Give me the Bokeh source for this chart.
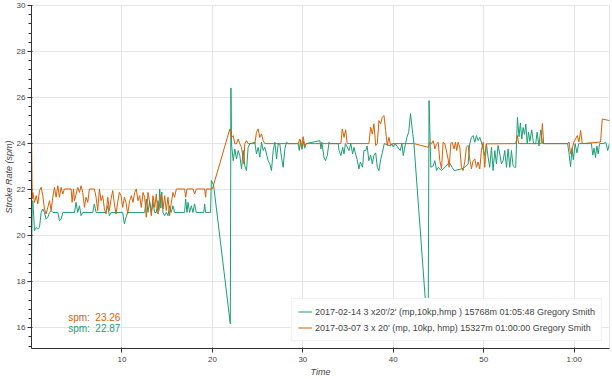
from bokeh.plotting import figure
from bokeh.models import Range1d, FixedTicker, Label, Legend, LegendItem
from bokeh.embed import file_html
from bokeh.resources import INLINE

FONT = "Liberation Sans"

# ---- data (time in minutes, stroke rate in spm) ----
green_t = [0, 0.08, 0.15, 0.33, 0.52, 0.70, 0.88, 1.07, 1.25, 1.43, 1.62, 1.80, 1.99, 2.17, 2.35, 2.91,
           3.09, 3.27, 3.46, 4.75, 4.93, 5.11, 5.30, 5.48, 5.67, 6.77, 6.95, 7.14, 8.24, 8.43, 8.61, 8.79,
           10.08, 10.27, 10.45, 10.63, 12.51, 12.69, 12.88, 13.06, 13.25, 13.43, 13.62, 13.80, 13.98, 14.08,
           14.17, 14.30, 14.40, 14.54, 14.72, 14.90, 15.09, 15.27, 15.46, 15.64, 15.82, 16.93, 17.04, 17.19,
           17.30, 17.48, 17.67, 17.85, 18.03, 18.22, 19.05, 19.14, 19.25, 19.80, 19.88, 20.13, 21.98, 22.05,
           22.11, 22.30, 22.48, 22.66, 22.85, 23.03, 23.22, 23.40, 23.58, 23.77, 23.95, 24.14, 24.69, 24.87,
           25.06, 25.24, 25.43, 25.61, 25.80, 25.98, 26.16, 26.35, 26.53, 26.72, 26.90, 27.09, 27.27, 27.45,
           27.64, 27.82, 28.01, 28.19, 28.40, 29.48, 29.60, 29.75, 29.90, 30.05, 30.20, 30.35, 31.88, 32.00,
           32.10, 32.34, 32.50, 32.71, 32.89, 33.00, 33.90, 34.00, 34.20, 34.40, 34.55, 34.70, 35.10, 35.30,
           35.50, 35.65, 35.80, 36.00, 36.20, 36.35, 36.60, 36.75, 36.95, 37.10, 37.30, 37.50, 37.68, 37.86,
           38.05, 38.23, 38.41, 38.60, 38.78, 39.00, 39.70, 39.85, 40.00, 40.20, 40.76, 40.95, 41.10, 41.30,
           41.50, 41.70, 41.90, 42.10, 42.28, 43.85, 43.95, 44.15, 44.41, 44.59, 44.78, 44.96, 45.33, 45.70,
           46.06, 46.17, 46.50, 46.72, 47.53, 47.90, 48.27, 48.45, 48.64, 48.82, 49.01, 49.19, 49.37, 49.56,
           49.74, 49.93, 50.11, 50.29, 50.48, 50.66, 50.85, 51.03, 51.22, 51.40, 51.58, 51.77, 51.95, 52.14,
           52.32, 52.51, 52.69, 52.88, 53.06, 53.24, 53.43, 53.53, 53.72, 53.90, 54.05, 54.20, 54.35, 54.50,
           54.65, 54.80, 54.95, 55.10, 55.30, 55.50, 55.74, 55.90, 56.10, 56.30, 56.50, 59.27, 59.42, 59.60,
           59.75, 59.90, 60.10, 60.30, 60.50, 61.90, 62.05, 62.20, 62.35, 62.50, 62.65, 62.80, 63.20, 63.50,
           63.70, 63.90]
green_spm = [18.5, 21.5, 21.52, 20.22, 20.36, 20.29, 20.36, 21.01, 21.16, 21.01, 20.72, 20.80, 21.01, 21.09, 21.01, 21.01,
             20.65, 20.72, 21.01, 21.01, 21.45, 21.01, 21.30, 20.87, 21.01, 21.01, 21.38, 21.01, 21.01, 21.30, 20.87, 21.01,
             21.01, 20.51, 20.80, 21.01, 21.01, 21.59, 21.01, 21.52, 21.01, 21.45, 21.01, 21.01, 21.52, 21.10,
             22.03, 21.20, 21.90, 21.01, 20.87, 21.01, 20.87, 21.30, 21.01, 21.30, 21.01, 21.01, 21.59, 21.01,
             21.45, 21.01, 21.30, 21.01, 21.38, 21.01, 21.01, 21.38, 21.01, 21.01, 22.40, 22.20, 16.17, 26.42,
             23.99, 23.26, 23.77, 23.33, 23.70, 23.48, 22.90, 23.70, 23.04, 22.83, 23.84, 23.99, 24.06, 23.55,
             23.84, 23.41, 24.06, 23.70, 23.84, 23.55, 23.26, 23.12, 22.83, 23.70, 24.06, 23.33, 23.99, 23.99,
             23.41, 22.97, 23.77, 24.06, 24.00, 24.00, 23.70, 24.15, 23.75, 24.10, 23.80, 24.00, 24.13, 23.77,
             24.06, 23.40, 23.26, 23.50, 24.06, 24.00, 24.00, 23.70, 23.48, 23.84, 23.55, 24.00, 23.70, 23.99,
             23.55, 23.84, 23.60, 23.30, 22.90, 23.20, 22.97, 23.70, 23.70, 23.90, 23.26, 23.50, 23.12, 23.50,
             23.60, 22.97, 22.83, 23.30, 23.60, 24.00, 23.90, 24.00, 23.85, 24.00, 23.70, 24.00, 23.48, 23.90,
             24.27, 24.50, 25.30, 24.60, 23.99, 15.55, 25.87, 22.97, 23.04, 23.26, 22.83, 22.97, 22.83, 22.97,
             23.12, 23.20, 22.97, 22.83, 22.90, 22.97, 23.12, 23.99, 24.27, 24.35, 24.06, 24.35, 24.13, 24.27,
             24.06, 23.77, 23.48, 23.99, 23.41, 22.97, 23.84, 22.83, 23.70, 23.12, 23.92, 23.55, 23.12, 23.26,
             23.70, 22.97, 23.77, 22.97, 23.70, 23.04, 22.97, 22.97, 25.14, 24.30, 24.90, 24.20, 24.70, 24.40,
             24.85, 24.00, 24.50, 24.10, 24.60, 24.00, 24.00, 24.50, 23.90, 24.60, 24.00, 24.00, 23.60, 23.00,
             23.80, 23.30, 24.00, 23.60, 24.00, 24.00, 23.50, 23.80, 23.40, 23.90, 23.55, 24.00, 24.00, 24.05,
             23.70, 24.00]

orange_t = [0, 0.08, 0.15, 0.33, 0.52, 0.70, 0.88, 1.07, 1.25, 1.43, 1.62, 1.80, 1.99, 2.17, 2.35, 2.54,
            2.72, 2.91, 3.09, 3.27, 3.46, 3.64, 4.38, 4.49, 4.64, 4.75, 4.93, 5.11, 5.30, 5.48, 5.67, 5.85,
            6.03, 6.22, 6.40, 6.95, 7.14, 7.32, 7.51, 7.69, 7.87, 8.06, 8.24, 8.43, 8.61, 8.79, 8.98, 9.16,
            9.35, 9.53, 9.71, 9.90, 10.08, 10.27, 10.45, 10.63, 10.85, 11.04, 11.22, 11.41, 11.59, 11.77,
            11.96, 12.14, 12.33, 12.51, 12.69, 12.88, 13.06, 13.25, 13.43, 13.62, 13.80, 13.98, 14.17, 14.35,
            14.54, 14.72, 14.90, 15.09, 15.27, 15.46, 15.64, 15.82, 16.01, 16.93, 17.04, 17.19, 17.85, 18.03,
            18.22, 19.14, 19.25, 19.33, 20.00, 21.93, 22.11, 22.30, 22.48, 22.66, 22.85, 23.03, 23.22, 23.40,
            23.47, 23.58, 23.77, 23.95, 24.69, 24.87, 25.06, 25.24, 25.43, 25.61, 25.80, 29.48, 29.67, 29.85,
            30.03, 30.22, 30.40, 34.20, 34.36, 34.55, 34.73, 34.90, 37.30, 37.49, 37.68, 37.86, 38.05, 38.23,
            38.41, 38.60, 38.78, 38.97, 39.15, 39.33, 39.52, 39.70, 39.90, 42.28, 43.86, 44.04, 44.22, 44.41,
            44.59, 44.78, 44.96, 45.14, 45.33, 45.51, 45.70, 46.06, 46.17, 46.36, 46.50, 46.72, 46.87, 47.01,
            47.16, 47.35, 47.53, 47.71, 47.90, 48.08, 48.27, 48.45, 48.64, 48.82, 49.01, 49.19, 49.37, 49.56,
            49.74, 49.93, 50.11, 50.29, 53.53, 53.72, 53.86, 56.34, 56.48, 56.62, 59.27, 59.42, 59.60, 59.97,
            60.34, 60.52, 60.71, 60.89, 62.91, 63.10, 63.90]
orange_spm = [24.6, 21.6, 21.88, 21.45, 21.74, 21.38, 21.96, 22.10, 21.74, 21.16, 20.94, 21.23, 21.52, 21.09, 21.67, 22.10,
              21.67, 22.17, 21.67, 22.10, 21.81, 22.03, 22.03, 21.45, 22.03, 21.52, 21.81, 22.10, 21.88, 22.17, 21.88, 21.23,
              21.67, 21.45, 22.03, 22.03, 21.67, 21.09, 22.03, 21.52, 21.74, 21.16, 20.94, 21.67, 21.09, 21.59, 21.96, 21.38,
              20.94, 21.45, 21.88, 21.74, 21.23, 21.67, 21.45, 20.94, 21.52, 21.74, 21.45, 21.88, 22.03, 21.52,
              21.74, 21.23, 21.88, 21.67, 20.80, 21.88, 21.45, 20.87, 21.74, 21.23, 21.81, 20.94, 21.38, 21.81,
              21.16, 21.74, 21.09, 21.67, 20.87, 21.45, 21.88, 21.67, 22.03, 22.03, 21.67, 22.03, 22.03, 21.81,
              22.03, 22.03, 21.67, 22.03, 22.03, 24.64, 24.27, 24.35, 23.99, 23.99, 24.20, 23.99, 23.84, 23.33,
              23.12, 23.99, 24.13, 24.00, 24.00, 24.49, 24.64, 24.27, 24.42, 24.13, 24.00, 24.00, 24.20, 23.80,
              24.30, 23.90, 24.00, 24.00, 24.64, 24.27, 24.60, 24.00, 24.00, 24.71, 24.42, 24.86, 23.92, 24.00,
              25.00, 24.86, 25.14, 25.22, 24.57, 23.92, 24.27, 23.92, 24.00, 24.00, 23.84, 24.06, 23.99, 24.13,
              23.77, 23.99, 24.06, 23.26, 22.90, 24.06, 23.99, 23.33, 22.97, 23.99, 24.06, 23.77, 24.06, 23.70,
              24.06, 23.84, 22.97, 22.83, 23.20, 23.84, 23.92, 23.33, 22.90, 23.26, 23.33, 22.97, 23.20, 22.90,
              23.70, 24.06, 22.97, 23.99, 24.00, 24.35, 24.00, 24.00, 24.87, 24.00, 24.00, 24.07, 23.56, 24.07,
              24.35, 24.07, 24.57, 24.00, 24.07, 25.07, 25.00]

green_name = "2017-02-14 3 x20'/2' (mp,10kp,hmp ) 15768m 01:05:48 Gregory Smith"
orange_name = "2017-03-07 3 x 20' (mp, 10kp, hmp) 15327m 01:00:00 Gregory Smith"
orange_avg = "spm:\u00a0 23.26"
green_avg = "spm:\u00a0 22.87"

x_ticks = [10, 20, 30, 40, 50, 60]
x_tick_labels = {60: "1:00"}
y_ticks = [16, 18, 20, 22, 24, 26, 28, 30]

GREEN = "#1b9e77"
ORANGE = "#d95f02"

p = figure(width=612, height=379, output_backend="svg", toolbar_location=None,
           x_range=Range1d(0, 63.9), y_range=Range1d(15.1, 30),
           min_border_left=0, min_border_right=3, min_border_top=5, min_border_bottom=0)

gl = p.line(green_t, green_spm, line_color=GREEN, line_width=1)
ol = p.line(orange_t, orange_spm, line_color=ORANGE, line_width=1)

legend = Legend(items=[LegendItem(label=green_name, renderers=[gl]),
                       LegendItem(label=orange_name, renderers=[ol])],
                location="bottom_right", label_text_font=FONT, label_text_font_size="9px",
                label_text_color="#444444", glyph_width=14, glyph_height=13, label_height=13,
                label_standoff=3, padding=6, spacing=3, margin=7,
                border_line_color="#e5e5e5", background_fill_alpha=0.95)
p.add_layout(legend, "center")

p.add_layout(Label(x=4.05, y=16.45, text=orange_avg, text_color=ORANGE, text_font=FONT,
                   text_font_size="10px", text_baseline="alphabetic"))
p.add_layout(Label(x=4.05, y=15.97, text=green_avg, text_color=GREEN, text_font=FONT,
                   text_font_size="10px", text_baseline="alphabetic"))

p.xaxis.ticker = FixedTicker(ticks=x_ticks)
p.xaxis.major_label_overrides = x_tick_labels
p.yaxis.ticker = FixedTicker(ticks=y_ticks, minor_ticks=[15.2 + 0.4 * i for i in range(37)])
p.xaxis.axis_label = "Time"
p.yaxis.axis_label = "Stroke Rate (spm)"
for ax in (p.xaxis, p.yaxis):
    ax.axis_label_text_font = FONT
    ax.axis_label_text_font_style = "italic"
    ax.axis_label_text_font_size = "9px"
    ax.axis_label_text_color = "#444444"
    ax.axis_label_standoff = 0
    ax.major_label_text_font = FONT
    ax.major_label_text_font_size = "8px"
    ax.major_label_text_color = "#444444"
    ax.major_label_standoff = 2
    ax.major_tick_out = 4
    ax.major_tick_in = 1
    ax.minor_tick_out = 3
    ax.minor_tick_in = 0
    ax.axis_line_color = "#333333"
    ax.major_tick_line_color = "#333333"
    ax.minor_tick_line_color = "#333333"
p.xaxis.minor_tick_line_color = None
p.grid.grid_line_color = "#e5e5e5"
p.outline_line_color = "#e5e5e5"

open("out.html", "w").write(file_html(p, INLINE))
